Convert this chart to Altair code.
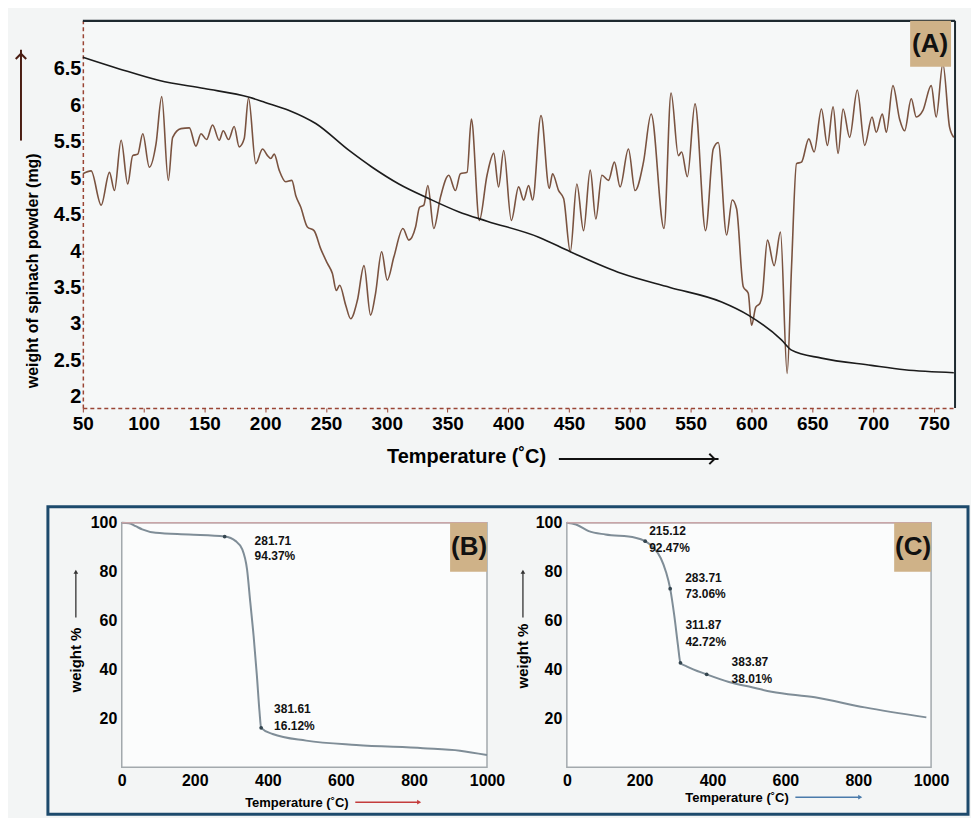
import altair as alt
import pandas as pd

# ---------------- data ----------------
# Panel A: noisy (brown) curve
a_noisy_temp = [50, 56.8, 65.1, 71.9, 76, 81.5, 86.9, 91, 95.2, 99.3, 104.7, 110.2, 114.9, 120.3,
                123.9, 130.7, 137.6, 143, 147.2, 151.8, 156.7, 162.2, 165.5, 169.9, 174.5, 178.6,
                182.7, 186.3, 192.3, 197.8, 201.9, 204.6, 207.4, 211.5, 216.9, 221.9, 225.2, 229.3,
                234.7, 240.2, 245.7, 251.2, 255.3, 258.5, 261.3, 266.2, 270.3, 275.8, 281.3, 286.7,
                290.8, 295.8, 300.4, 305.9, 313.3, 318.2, 323.7, 327, 330.5, 333.8, 338.7, 344.2,
                351, 356.5, 360.6, 366.1, 369.6, 376.2, 382.5, 388, 392, 396.2, 402.5, 408.5, 412.6,
                416.7, 420, 426.9, 433.7, 436.4, 441.4, 445.5, 451, 456.4, 461.9, 467.4, 472, 477,
                482.4, 487.3, 492, 498.8, 504.3, 511.2, 517.5, 528.1, 533.9, 539.9, 542.6, 547.3,
                553.6, 562.3, 568.6, 572.7, 579.6, 584.2, 587.8, 593.3, 597.4, 600.1, 603.6, 607,
                608.9, 613.2, 618.7, 623.9, 629.4, 633, 637.1, 641.2, 647.2, 651.6, 657.6, 662.5,
                667.2, 671.3, 675.4, 680.8, 687.1, 693.2, 699.2, 702.7, 707.7, 711, 716.4, 721.9,
                726, 731.5, 735.6, 741.1, 747.9, 752, 757.5, 763, 766.5]
a_noisy_val = [5.06, 5.1, 4.63, 5.08, 4.83, 5.52, 4.92, 5.31, 5.33, 5.61, 5.15, 5.47, 6.12, 4.97,
               5.56, 5.68, 5.69, 5.44, 5.61, 5.53, 5.73, 5.52, 5.65, 5.53, 5.71, 5.43,
               5.54, 6.1, 5.2, 5.4, 5.31, 5.27, 5.33, 5.11, 4.95, 4.97, 4.76, 4.6,
               4.33, 4.28, 4.03, 3.83, 3.69, 3.46, 3.53, 3.26, 3.07, 3.32, 3.8, 3.12,
               3.42, 3.99, 3.6, 3.92, 4.31, 4.15, 4.33, 4.6, 4.63, 4.9, 4.31, 4.74,
               5.04, 4.83, 5.06, 5.08, 5.81, 4.42, 5.04, 5.34, 4.88, 5.38, 4.42, 4.88, 4.7,
               4.9, 4.7, 5.86, 4.86, 5.06, 4.83, 4.72, 3.99, 4.92, 4.28, 5.11, 4.44, 5.04,
               4.97, 5.22, 4.88, 5.4, 4.83, 5.22, 5.88, 4.31, 6.17, 5.31, 5.36, 5.02,
               6.02, 4.28, 5.4, 5.49, 4.22, 4.7, 4.58, 3.51, 3.42, 2.98, 3.23, 3.28,
               3.39, 4.15, 3.8, 4.26, 2.32, 3.78, 5.2, 5.22, 5.54, 5.36, 5.95, 5.45,
               5.98, 5.34, 5.95, 5.56, 6.21, 5.45, 5.84, 5.63, 5.88, 5.63, 6.27, 5.81,
               5.65, 6.09, 5.84, 5.93, 6.27, 5.84, 6.57, 5.7, 5.56]

# Panel A: smooth (black) weight curve
a_tga_temp = [50, 80, 113, 150, 187, 200, 219.7, 241.6, 269, 288, 310, 334.6, 359, 382.5, 425,
              451, 493.4, 533, 575.5, 597.4, 624.7, 633, 657.6, 698.6, 726, 766.5]
a_tga_val = [6.66, 6.5, 6.34, 6.23, 6.11, 6.04, 5.93, 5.75, 5.38, 5.15, 4.92, 4.72, 4.54, 4.41, 4.19,
             3.99, 3.69, 3.5, 3.3, 3.12, 2.78, 2.64, 2.53, 2.43, 2.37, 2.33]

a_x_ticks = [50, 100, 150, 200, 250, 300, 350, 400, 450, 500, 550, 600, 650, 700, 750]
a_y_ticks = [2, 2.5, 3, 3.5, 4, 4.5, 5, 5.5, 6, 6.5]

# Panel B
b_temp = [0, 20, 38, 56, 93, 184, 281.71, 312, 330, 343, 352, 361, 370, 377, 381.61, 413, 505,
          642, 825, 926, 1000]
b_weight = [100, 99.8, 98.6, 97.3, 95.9, 95.2, 94.37, 92.5, 89.1, 80.9, 67.3, 53.7, 37.4, 23,
            16.12, 13.6, 10.9, 9.1, 7.8, 6.8, 5.0]
b_ann_temp = [281.71, 381.61]
b_ann_weight = [94.37, 16.12]
b_ann_t_text = ["281.71", "381.61"]
b_ann_w_text = ["94.37%", "16.12%"]

# Panel C
c_temp = [0, 25, 60, 106, 188, 215.12, 240, 258, 272, 283.71, 295, 305, 311.87, 330, 383.87, 445,
          508, 562, 681, 818, 987]
c_weight = [100, 99.3, 96.6, 95.2, 93.9, 92.47, 89.5, 85.5, 80, 73.06, 62, 50, 42.72, 41.2, 38.01,
            34.9, 32.7, 30.9, 28.6, 24.5, 20.4]
c_ann_temp = [215.12, 283.71, 311.87, 383.87]
c_ann_weight = [92.47, 73.06, 42.72, 38.01]
c_ann_t_text = ["215.12", "283.71", "311.87", "383.87"]
c_ann_w_text = ["92.47%", "73.06%", "42.72%", "38.01%"]

bc_x_ticks = [0, 200, 400, 600, 800, 1000]
bc_y_ticks = [20, 40, 60, 80, 100]

# ---------------- layout constants ----------------
FONT = "Liberation Sans"
AW, AH = 874, 388
BW, BH = 366, 245
CW, CH = 365, 245
one = pd.DataFrame({"k": [0]})

# ---------------- panel A ----------------
xA = alt.Scale(domain=[50, 767.5], nice=False, zero=False)
yA = alt.Scale(domain=[1.845, 7.16], nice=False, zero=False)
red = "#9a4535"
axAx = alt.Axis(values=a_x_ticks, title="Temperature (˚C)", labelFont=FONT, labelFontSize=19,
                labelFontWeight="bold", labelColor="black", domainColor=red, domainWidth=1.5,
                domainDash=[4, 3], tickColor=red, tickSize=4, labelPadding=3, grid=False,
                titleFont=FONT, titleFontSize=20, titleFontWeight="bold", titleColor="black",
                titleX=384, titlePadding=13, labelFlush=False)
axAy = alt.Axis(values=a_y_ticks, format="~g", title="weight of spinach powder (mg)",
                labelFont=FONT, labelFontSize=20, labelFontWeight="bold", labelColor="black",
                domainColor=red, domainWidth=1.5, domainDash=[4, 3], ticks=False, labelPadding=2,
                grid=False, titleFont=FONT, titleFontSize=16, titleFontWeight="bold",
                titleColor="black", titleX=-50, titleY=250, titleBaseline="middle")

df_noisy = pd.DataFrame({"t": a_noisy_temp, "v": a_noisy_val})
df_tga = pd.DataFrame({"t": a_tga_temp, "v": a_tga_val})

noisy = alt.Chart(df_noisy).mark_line(color="#7a5340", strokeWidth=1.6, interpolate="monotone").encode(
    x=alt.X("t:Q", scale=xA, axis=axAx), y=alt.Y("v:Q", scale=yA, axis=axAy))
tga = alt.Chart(df_tga).mark_line(color="#1c1c1c", strokeWidth=1.6, interpolate="monotone").encode(
    x=alt.X("t:Q", scale=xA), y=alt.Y("v:Q", scale=yA))

frame_top = alt.Chart(one).mark_rule(color="#1e2a30", strokeWidth=2.2).encode(
    x=alt.value(0), x2=alt.value(AW), y=alt.value(0))
frame_right = alt.Chart(one).mark_rule(color="#1e2a30", strokeWidth=2).encode(
    x=alt.value(AW), y=alt.value(0), y2=alt.value(AH))
boxA = alt.Chart(one).mark_rect(color="#cfb288").encode(
    x=alt.value(829), x2=alt.value(870), y=alt.value(0), y2=alt.value(46))
txtA = alt.Chart(one).mark_text(text="(A)", font=FONT, fontSize=26, fontWeight="bold",
                                color="#111").encode(x=alt.value(849), y=alt.value(23))
arrA_up = alt.Chart(one).mark_rule(color="#4a1d12", strokeWidth=2).encode(
    x=alt.value(-62), y=alt.value(29), y2=alt.value(120))
arrA_up_head = alt.Chart(one).mark_point(shape="M-1,1L0,0L1,1", size=110, filled=False,
                                         color="#4a1d12", strokeWidth=2, opacity=1).encode(
    x=alt.value(-62), y=alt.value(33))
arrA_x = alt.Chart(one).mark_rule(color="#111", strokeWidth=2).encode(
    x=alt.value(477), x2=alt.value(637), y=alt.value(439))
arrA_x_head = alt.Chart(one).mark_point(shape="M-1,-1L0,0L-1,1", size=110, filled=False,
                                        color="#111", strokeWidth=2, opacity=1).encode(
    x=alt.value(633), y=alt.value(439))

chartA = alt.layer(noisy, tga, frame_top, frame_right, boxA, txtA, arrA_up, arrA_up_head,
                   arrA_x, arrA_x_head).properties(
    width=AW, height=AH, view=alt.ViewBackground(fill="#f6f8f8", stroke=None))


# ---------------- panels B and C ----------------
def tg_panel(temps, weights, ann_t, ann_w, ann_tt, ann_wt, offsets, label, w, h,
             title_x, title_y, ytitle_x, ytitle_y, arrow_color, arrow_x0, arrow_x1, arrow_y,
             frame=False):
    xs = alt.Scale(domain=[0, 1000], nice=False)
    ys = alt.Scale(domain=[0, 100], nice=False)
    axx = alt.Axis(values=bc_x_ticks, format="d", title="Temperature (˚C)", labelFont=FONT,
                   labelFontSize=16, labelFontWeight="bold", labelColor="black", domain=False,
                   ticks=False, labelPadding=5, grid=False, titleFont=FONT, titleFontSize=13,
                   titleFontWeight="bold", titleColor="black", titleX=title_x, titleY=title_y,
                   titleBaseline="middle", labelFlush=False)
    axy = alt.Axis(values=bc_y_ticks, title="weight %", labelFont=FONT, labelFontSize=16,
                   labelFontWeight="bold", labelColor="black", domain=False, ticks=False,
                   labelPadding=5, grid=False, titleFont=FONT, titleFontSize=15,
                   titleFontWeight="bold", titleColor="black", titleX=ytitle_x, titleY=ytitle_y,
                   titleBaseline="middle")
    df = pd.DataFrame({"t": temps, "w": weights})
    layers = []
    if frame:
        layers.append(alt.Chart(one).mark_rect(fillOpacity=0, stroke="#1d4a6c", strokeWidth=3).encode(
            x=alt.value(-74), x2=alt.value(848), y=alt.value(-16), y2=alt.value(292)))
    layers.append(alt.Chart(df).mark_line(color="#7f8d97", strokeWidth=2, interpolate="monotone").encode(
        x=alt.X("t:Q", scale=xs, axis=axx), y=alt.Y("w:Q", scale=ys, axis=axy)))
    layers.append(alt.Chart(one).mark_rule(color="#c9a5a8", strokeWidth=1.5).encode(
        x=alt.value(0), x2=alt.value(w), y=alt.value(0)))
    dfa = pd.DataFrame({"t": ann_t, "w": ann_w})
    layers.append(alt.Chart(dfa).mark_point(filled=True, size=14, color="#34454f", opacity=1).encode(
        x=alt.X("t:Q", scale=xs), y=alt.Y("w:Q", scale=ys)))
    for i in range(len(ann_t)):
        dfi = pd.DataFrame({"t": [ann_t[i]], "w": [ann_w[i]], "a": [ann_tt[i]], "b": [ann_wt[i]]})
        dx, dy1, dy2 = offsets[i]
        for fld, dy in (("a", dy1), ("b", dy2)):
            layers.append(alt.Chart(dfi).mark_text(align="left", baseline="middle", dx=dx, dy=dy,
                                                   font=FONT, fontSize=12, fontWeight="bold",
                                                   color="#111").encode(
                x=alt.X("t:Q", scale=xs), y=alt.Y("w:Q", scale=ys), text=f"{fld}:N"))
    layers.append(alt.Chart(one).mark_rect(color="#cfb288").encode(
        x=alt.value(w - 37), x2=alt.value(w), y=alt.value(0), y2=alt.value(49)))
    layers.append(alt.Chart(one).mark_text(text=label, font=FONT, fontSize=26, fontWeight="bold",
                                           color="#111").encode(x=alt.value(w - 18), y=alt.value(24)))
    # axis-title arrows
    layers.append(alt.Chart(one).mark_rule(color=arrow_color, strokeWidth=1.5).encode(
        x=alt.value(arrow_x0), x2=alt.value(arrow_x1), y=alt.value(arrow_y)))
    layers.append(alt.Chart(one).mark_point(shape="triangle-right", size=22, filled=True,
                                            color=arrow_color, opacity=1).encode(
        x=alt.value(arrow_x1), y=alt.value(arrow_y)))
    layers.append(alt.Chart(one).mark_rule(color="#333", strokeWidth=1.3).encode(
        x=alt.value(ytitle_x), y=alt.value(50), y2=alt.value(95)))
    layers.append(alt.Chart(one).mark_point(shape="triangle-up", size=22, filled=True,
                                            color="#333", opacity=1).encode(
        x=alt.value(ytitle_x), y=alt.value(49)))
    return alt.layer(*layers).properties(
        width=w, height=h, view=alt.ViewBackground(fill="#fbfcfc", stroke="#a3a9ad", strokeWidth=1.5))


b_offsets = [(30, 4, 20), (13, -19, -2)]
c_offsets = [(4, -10, 7), (15, -11, 5), (5, -38, -21), (25, -12, 5)]

chartB = tg_panel(b_temp, b_weight, b_ann_temp, b_ann_weight, b_ann_t_text, b_ann_w_text,
                  b_offsets, "(B)", BW, BH, 175, 35, -46, 137, "#c43c3c", 234, 298, 280, frame=True)
chartC = tg_panel(c_temp, c_weight, c_ann_temp, c_ann_weight, c_ann_t_text, c_ann_w_text,
                  c_offsets, "(C)", CW, CH, 170, 30, -44, 133, "#4a7bab", 229, 294, 275)

spacer = alt.Chart(one).mark_point(opacity=0).encode(x=alt.value(0), y=alt.value(0)).properties(
    width=39, height=BH, view=alt.ViewBackground(fill=None, stroke=None))

bottom = alt.hconcat(spacer, alt.hconcat(chartB, chartC, spacing=80, bounds="flush"),
                     spacing=0, bounds="flush")

chart = alt.vconcat(chartA, bottom, spacing=115, bounds="flush").properties(
    padding={"left": 3, "top": 10, "right": 0, "bottom": 0},
    background="#f3f5f5",
).configure(font=FONT)

chart.save("out.html", embed_options={"renderer": "svg", "actions": False})
